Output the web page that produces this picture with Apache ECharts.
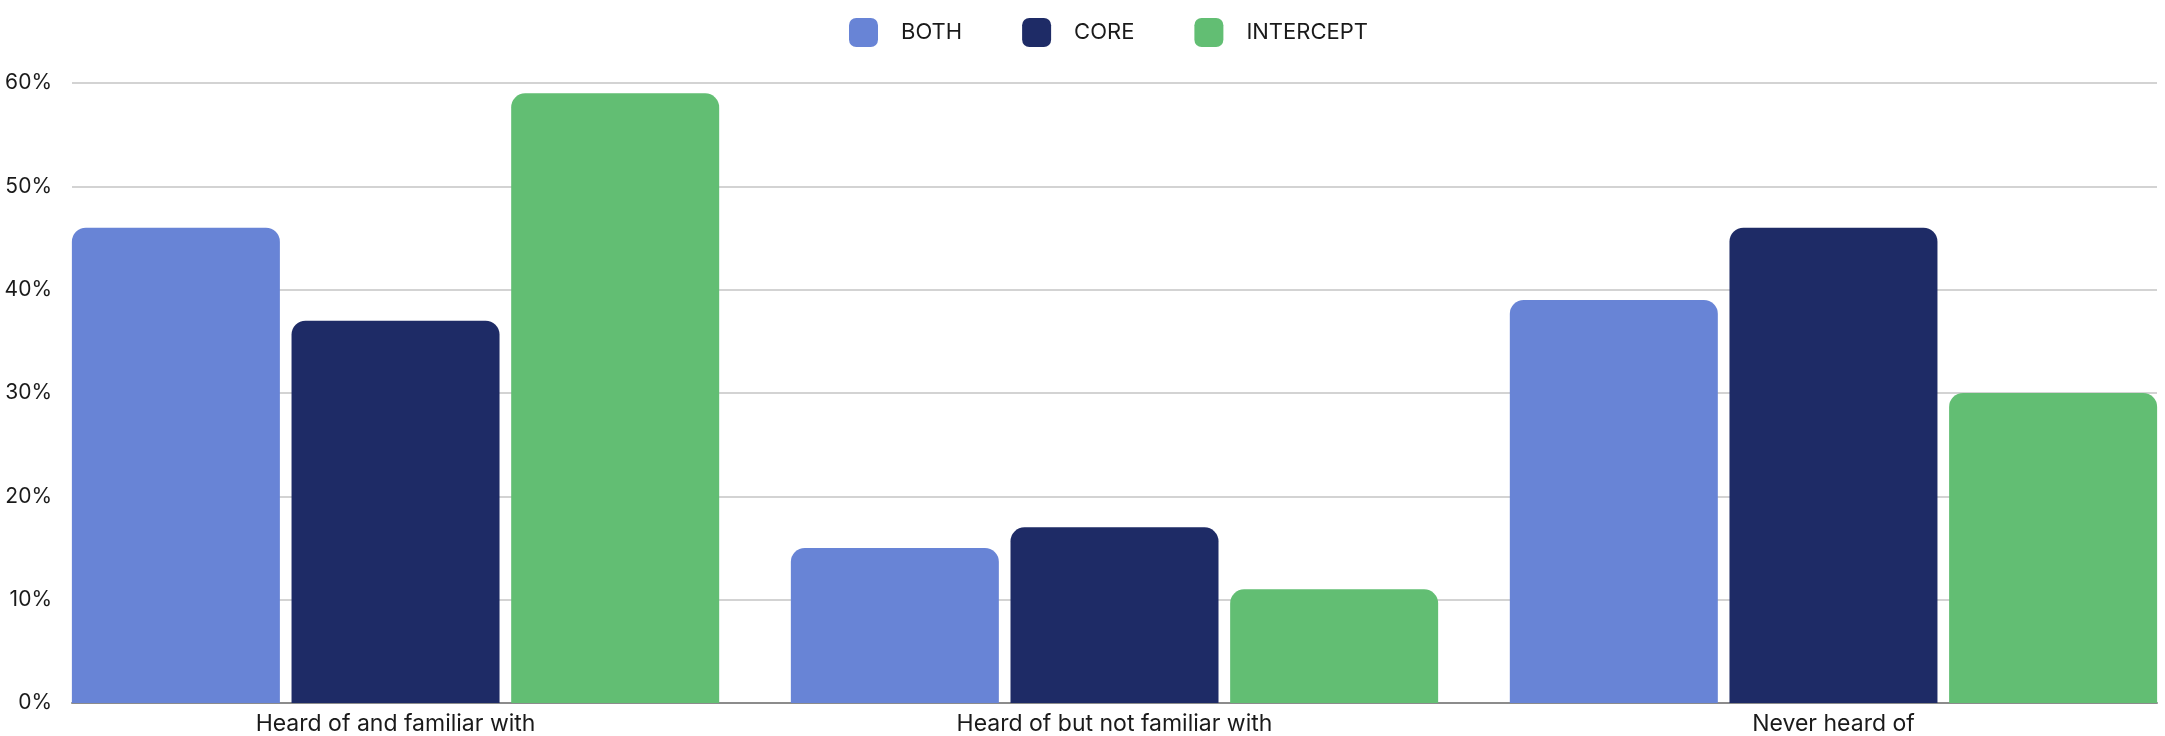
<!DOCTYPE html>
<html>
<head>
<meta charset="utf-8">
<script src="https://cdn.jsdelivr.net/npm/echarts@6/dist/echarts.min.js"></script>
<style>
html,body{margin:0;padding:0;background:#fff;overflow:hidden;}
#chart{width:2165px;height:736px;}
</style>
</head>
<body>
<div id="chart"></div>
<script>
const categories = ['Heard of and familiar with', 'Heard of but not familiar with', 'Never heard of'];
const seriesNames = ['BOTH', 'CORE', 'INTERCEPT'];
const bothValues = [46, 15, 39];
const coreValues = [37, 17, 46];
const interceptValues = [59, 11, 30];
const yTicks = { min: 0, max: 60, interval: 10 };

const colors = ['#6884D6', '#1E2B66', '#62BE73'];
const FONT = 'Inter, "Noto Sans", sans-serif';
const chart = echarts.init(document.getElementById('chart'), null, { renderer: 'canvas' });

const categoryIndex = categories.map((c, i) => i);

function barSeries(name, values, color) {
  return {
    name: name,
    type: 'bar',
    data: values.map((v, i) => [categoryIndex[i], v]),
    barWidth: 208,
    barGap: '5.6%',
    itemStyle: { color: color, borderRadius: [14, 14, 0, 0] },
    emphasis: { disabled: true }
  };
}

chart.setOption({
  animation: false,
  backgroundColor: '#ffffff',
  textStyle: { fontFamily: FONT },
  color: colors,
  legend: {
    data: seriesNames,
    left: 844,
    top: 13,
    icon: 'roundRect',
    itemWidth: 29,
    itemHeight: 29,
    itemGap: 60,
    textStyle: { fontSize: 22, color: '#1a1a1a', fontFamily: FONT, padding: [0, 0, 0, 18] }
  },
  grid: { left: 72, top: 83, width: 2085, height: 620, containLabel: false },
  xAxis: {
    type: 'value',
    min: -0.45,
    max: 2.45,
    axisLine: { show: true, lineStyle: { color: '#8c8c8c', width: 2 } },
    axisTick: { show: false },
    axisLabel: {
      customValues: categoryIndex,
      formatter: (v) => categories[Math.round(v)] || '',
      fontSize: 23,
      color: '#1a1a1a',
      margin: 10,
      fontFamily: FONT
    },
    splitLine: { show: false }
  },
  yAxis: {
    type: 'value',
    min: yTicks.min,
    max: yTicks.max,
    interval: yTicks.interval,
    axisLine: { show: false },
    axisTick: { show: false },
    axisLabel: { formatter: '{value}%', fontSize: 21, color: '#1a1a1a', margin: 20, fontFamily: FONT },
    splitLine: { show: true, lineStyle: { color: '#c4c4c4', width: 1.5 } }
  },
  series: [
    barSeries(seriesNames[0], bothValues, colors[0]),
    barSeries(seriesNames[1], coreValues, colors[1]),
    barSeries(seriesNames[2], interceptValues, colors[2])
  ]
});
</script>
</body>
</html>
